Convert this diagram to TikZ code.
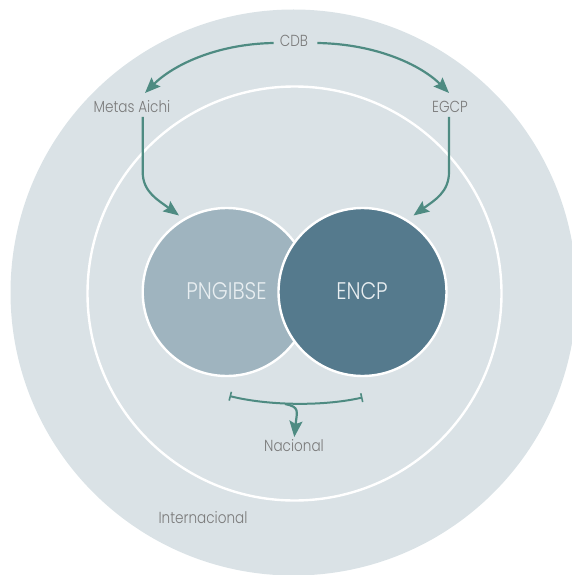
\documentclass[tikz,border=0pt]{standalone}
\usepackage{fontspec}
\setmainfont{Poppins Light}[FakeStretch=0.85]
\usetikzlibrary{arrows.meta}
\definecolor{bgc}{HTML}{DAE2E6}
\definecolor{lc}{HTML}{9FB4BF}
\definecolor{rc}{HTML}{557A8D}
\definecolor{ac}{HTML}{4E8B82}
\definecolor{tc}{HTML}{7A7A7A}
\definecolor{wc}{HTML}{E8EEF1}
\begin{document}
\begin{tikzpicture}[x=1pt,y=-1pt,
  lbl/.style={text=tc,font=\fontsize{16}{16}\selectfont,inner sep=2pt},
  biglbl/.style={text=wc,font=\fontsize{24}{24}\selectfont,inner sep=0pt},
  conn/.style={draw=ac,line width=2.2pt,-{Stealth[length=15.5pt,width=12.5pt,inset=2.5pt]}},
  ring/.style={circle,draw=white,line width=2.4pt,minimum size=168pt,inner sep=0pt},
]
\useasboundingbox (0,0) rectangle (571,575);
\fill[bgc] (293.5,292.5) circle[radius=283pt];
\draw[white,line width=2.4pt] (294.5,293.5) circle[radius=207pt];
\node[ring,fill=lc] (png) at (226.7,292) {};
\node[ring,fill=rc] (encp) at (362.5,292) {};
\node[biglbl] (pngt) at (226.5,291) {PNGIBSE};
\node[biglbl] (encpt) at (362,291) {ENCP};
\node[lbl] (cdb) at (294,41) {CDB};
\node[lbl] (aichi) at (132,106.5) {Metas Aichi};
\node[lbl] (egcp) at (450,106.5) {EGCP};
\node[lbl] (nac) at (294,446) {Nacional};
\node[lbl] (intl) at (203,518) {Internacional};
\coordinate (t1) at (145,93);
\coordinate (t2) at (449,93);
\coordinate (t3) at (179,215.5);
\coordinate (t4) at (413.5,215.5);
\coordinate (bl) at (229.5,396);
\coordinate (br) at (362.5,397.5);
\coordinate (bm) at (285,404);
\coordinate (t5) at (294.3,437);
\draw[conn] ([xshift=-4pt,yshift=-2pt]cdb.west) .. controls (215,44) and (172,66) .. (t1);
\draw[conn] ([xshift=7pt,yshift=-2pt]cdb.east) .. controls (378,44) and (422,66) .. (t2);
\draw[conn] (142.7,117) -- (142.7,172) .. controls (142.7,192) and (158,200) .. (t3);
\draw[conn] (449,117) -- (449,172) .. controls (449,192) and (435,200) .. (t4);
\draw[ac,line width=2pt,{Bar[width=9pt,line width=1.6pt]}-{Bar[width=9pt,line width=1.6pt]}] (bl) .. controls (265,405) and (320,407) .. (br);
\draw[draw=ac,line width=2.2pt,-{Stealth[length=16pt,width=13pt,inset=3pt]}] (bm) .. controls (300,407) and (297,411) .. (t5);
\end{tikzpicture}
\end{document}
